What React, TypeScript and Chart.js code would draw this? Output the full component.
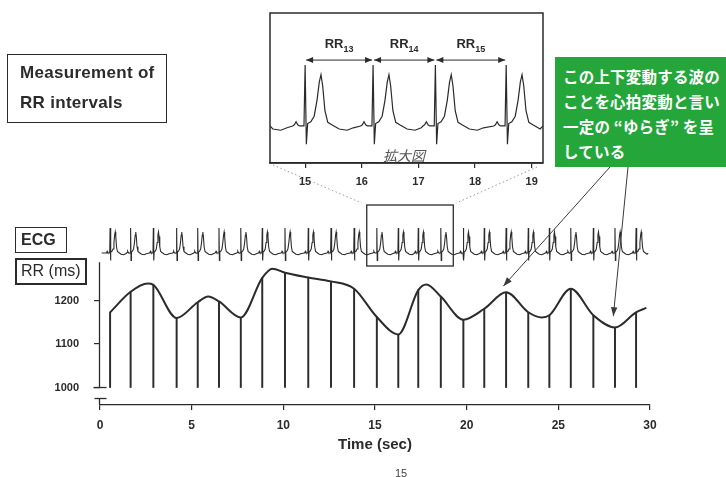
import React, { useEffect, useRef } from 'react';
import { Chart, registerables } from 'chart.js';

Chart.register(...registerables);

const INK = '#2b2b2b';
const FONT = '"Liberation Sans", Arial, Helvetica, sans-serif';
const JP = '"Noto Sans CJK JP", "Noto Sans CJK SC", sans-serif';

// Beat (R wave) times in seconds and the RR interval (ms) at each stem
const beatTimes = [0.55, 1.67, 2.91, 4.18, 5.33, 6.49, 7.68, 8.85, 10.09, 11.36, 12.6, 13.86, 15.1, 16.27, 17.36, 18.59, 19.82, 20.96, 22.15, 23.36, 24.51, 25.68, 26.91, 28.09, 29.24];
const rrValues = [1173, 1220, 1236, 1160, 1196, 1198, 1161, 1252, 1264, 1253, 1244, 1227, 1162, 1122, 1224, 1209, 1156, 1181, 1219, 1173, 1166, 1227, 1166, 1138, 1173];
const curveExtraTimes = [2.6, 5.9, 9.4, 17.8, 24.1, 29.8];
const curveExtraValues = [1239, 1209, 1273, 1237, 1161, 1183];

const xTicks = [0, 5, 10, 15, 20, 25, 30];
const yTicks = [1000, 1100, 1200];
const rrBase = 1000;
const rrAxisTop = 1288;

// One heartbeat read from the enlarged view: [seconds from R, amplitude (R = 1)]
const ecgBeatShape: [number, number][] = [
  [-0.22, 0], [-0.19, 0.02], [-0.16, 0.07], [-0.13, 0.02], [-0.1, 0], [-0.02, 0],
  [0, 1.0], [0.022, -0.3], [0.045, 0.04], [0.1, 0.07], [0.16, 0.16], [0.21, 0.42],
  [0.25, 0.72], [0.28, 0.84], [0.31, 0.66], [0.35, 0.25], [0.4, 0.06], [0.47, 0.02], [0.6, -0.05], [0.74, -0.07], [0.85, -0.03],
];
const ecgStart = 0.09;
const ecgEnd = 29.9;

// Enlarged view (拡大図)
const insetBeatTimes = [13.83, 15.0, 16.2, 17.3, 18.55];
const insetTicks = [15, 16, 17, 18, 19];
const insetMin = 14.38;
const insetMax = 19.2;
const rrLabelNumbers = ['13', '14', '15'];
const rrArrowLevel = 1.08;

const zoomBoxTimes = [14.55, 19.27];
const zoomBoxEcg = [1.92, -0.52];
const arrowTargets = [{ x: 22.0, y: 1233 }, { x: 28.0, y: 1164 }];
const calloutLines = ['この上下変動する波の', 'ことを心拍変動と言い', '一定の “ゆらぎ” を呈', 'している'];

const INSET = { left: 270, top: 13, width: 273, height: 150 };
const CALLOUT = { left: 555, top: 57, width: 171, height: 110 };

function buildEcg(beats: number[], from: number, to: number) {
  const pts: { x: number; y: number }[] = [];
  for (const b of beats) {
    for (const [dt, a] of ecgBeatShape) {
      const t = b + dt;
      if (t >= from && t <= to) pts.push({ x: t, y: a });
    }
  }
  pts.sort((p, q) => p.x - q.x);
  return [{ x: from, y: 0 }, ...pts, { x: to, y: 0 }];
}

function line(ctx: CanvasRenderingContext2D, x1: number, y1: number, x2: number, y2: number) {
  ctx.beginPath();
  ctx.moveTo(x1, y1);
  ctx.lineTo(x2, y2);
  ctx.stroke();
}

function arrowHead(ctx: CanvasRenderingContext2D, fx: number, fy: number, tx: number, ty: number, len: number, half: number) {
  const a = Math.atan2(ty - fy, tx - fx);
  ctx.beginPath();
  ctx.moveTo(tx, ty);
  ctx.lineTo(tx - len * Math.cos(a) + half * Math.sin(a), ty - len * Math.sin(a) - half * Math.cos(a));
  ctx.lineTo(tx - len * Math.cos(a) - half * Math.sin(a), ty - len * Math.sin(a) + half * Math.cos(a));
  ctx.closePath();
  ctx.fill();
}

const mainDecor = {
  id: 'mainDecor',
  afterDraw(chart: any) {
    const { ctx, chartArea, scales } = chart;
    const x = scales.x;
    const y = scales.y;
    const ye = scales.yEcg;
    ctx.save();
    ctx.strokeStyle = INK;
    ctx.fillStyle = INK;
    // y axis with break
    const ax = chartArea.left - 0.5;
    const yTop = y.getPixelForValue(rrAxisTop);
    const y0 = y.getPixelForValue(rrBase);
    ctx.lineWidth = 1.3;
    line(ctx, ax, yTop, ax, y0);
    line(ctx, ax - 6, y0, ax + 7, y0);
    const yb = y0 + 11;
    line(ctx, ax - 5, yb, ax + 7, yb);
    line(ctx, ax, yb, ax, chartArea.bottom);
    // zoom box on the ECG
    const bl = x.getPixelForValue(zoomBoxTimes[0]);
    const br = x.getPixelForValue(zoomBoxTimes[1]);
    const bt = ye.getPixelForValue(zoomBoxEcg[0]);
    const bb = ye.getPixelForValue(zoomBoxEcg[1]);
    ctx.lineWidth = 1.3;
    ctx.strokeRect(bl, bt, br - bl, bb - bt);
    // dotted guide lines to the enlarged view
    ctx.save();
    ctx.strokeStyle = '#9a9a9a';
    ctx.lineWidth = 1;
    ctx.setLineDash([1.5, 2.5]);
    const ib = INSET.top + INSET.height;
    line(ctx, INSET.left + 3, ib + 2, bl - 5, bt - 2);
    line(ctx, INSET.left + INSET.width - 6, ib + 4, br + 3, bt - 2);
    ctx.restore();
    // callout arrows
    ctx.strokeStyle = '#3a3a3a';
    ctx.fillStyle = '#3a3a3a';
    ctx.lineWidth = 1;
    const starts = [CALLOUT.left + 55, CALLOUT.left + 73];
    arrowTargets.forEach((t, i) => {
      const sx = starts[i];
      const sy = CALLOUT.top + CALLOUT.height;
      const tx = x.getPixelForValue(t.x);
      const ty = y.getPixelForValue(t.y);
      line(ctx, sx, sy, tx, ty);
      arrowHead(ctx, sx, sy, tx, ty, 9, 3.2);
    });
    ctx.restore();
  },
};

const insetDecor = {
  id: 'insetDecor',
  afterDraw(chart: any) {
    const { ctx, chartArea, scales } = chart;
    const x = scales.x;
    const y = scales.y;
    ctx.save();
    ctx.strokeStyle = INK;
    ctx.fillStyle = INK;
    ctx.lineWidth = 1.5;
    ctx.strokeRect(chartArea.left, chartArea.top, chartArea.right - chartArea.left, chartArea.bottom - chartArea.top);
    const ay = y.getPixelForValue(rrArrowLevel);
    ctx.lineWidth = 1;
    for (let i = 0; i < rrLabelNumbers.length; i++) {
      const xa = x.getPixelForValue(insetBeatTimes[i + 1]) + 1;
      const xb = x.getPixelForValue(insetBeatTimes[i + 2]) - 1;
      line(ctx, xa, ay, xb, ay);
      arrowHead(ctx, xb, ay, xa, ay, 7, 3);
      arrowHead(ctx, xa, ay, xb, ay, 7, 3);
      const mid = (xa + xb) / 2;
      ctx.font = `bold 13px ${FONT}`;
      const w1 = ctx.measureText('RR').width;
      ctx.font = `bold 9px ${FONT}`;
      const w2 = ctx.measureText(rrLabelNumbers[i]).width;
      const sx = mid - (w1 + w2) / 2;
      ctx.textBaseline = 'alphabetic';
      ctx.textAlign = 'left';
      ctx.font = `bold 13px ${FONT}`;
      ctx.fillText('RR', sx, ay - 12);
      ctx.font = `bold 9px ${FONT}`;
      ctx.fillText(rrLabelNumbers[i], sx + w1, ay - 8);
    }
    ctx.restore();
  },
};

function Txt(props: { left: number; cy: number; size: number; lh?: number; weight?: string; color?: string; family?: string; italic?: boolean; ls?: number; children: any }) {
  const lh = props.lh ?? props.size * 1.3;
  return (
    <div
      style={{
        position: 'absolute',
        left: props.left,
        top: props.cy - lh / 2,
        height: lh,
        lineHeight: `${lh}px`,
        fontSize: props.size,
        fontWeight: props.weight ?? 'normal',
        fontStyle: props.italic ? 'italic' : 'normal',
        color: props.color ?? INK,
        fontFamily: props.family ?? FONT,
        letterSpacing: props.ls ?? 0,
        whiteSpace: 'pre',
      }}
    >
      {props.children}
    </div>
  );
}

function Box(props: { left: number; top: number; right: number; bottom: number; border?: number; bg?: string }) {
  return (
    <div
      style={{
        position: 'absolute',
        left: props.left,
        top: props.top,
        width: props.right - props.left,
        height: props.bottom - props.top,
        boxSizing: 'border-box',
        border: props.border ? `${props.border}px solid ${INK}` : 'none',
        background: props.bg ?? 'transparent',
      }}
    />
  );
}

export default function App() {
  const mainRef = useRef<HTMLCanvasElement>(null);
  const insetRef = useRef<HTMLCanvasElement>(null);

  useEffect(() => {
    Chart.defaults.font.family = FONT;
    const stems = beatTimes.map((t, i) => ({ x: t, y: [rrBase, rrValues[i]] }));
    const curve = [
      ...beatTimes.map((t, i) => ({ x: t, y: rrValues[i] })),
      ...curveExtraTimes.map((t, i) => ({ x: t, y: curveExtraValues[i] })),
    ].sort((a, b) => a.x - b.x);

    const main = new Chart(mainRef.current!, {
      type: 'line',
      data: {
        datasets: [
          {
            type: 'line',
            label: 'ECG',
            data: buildEcg(beatTimes, ecgStart, ecgEnd),
            yAxisID: 'yEcg',
            borderColor: INK,
            borderWidth: 1.1,
            pointRadius: 0,
            tension: 0,
          } as any,
          {
            type: 'line',
            label: 'RR curve',
            data: curve,
            yAxisID: 'y',
            borderColor: INK,
            borderWidth: 2,
            pointRadius: 0,
            cubicInterpolationMode: 'monotone',
          } as any,
          {
            type: 'bar',
            label: 'RR',
            data: stems,
            yAxisID: 'y',
            backgroundColor: INK,
            borderWidth: 0,
            barThickness: 1.3,
          } as any,
        ],
      },
      options: {
        animation: false,
        responsive: false,
        devicePixelRatio: 1,
        layout: { padding: { top: 222, right: 76, left: 0, bottom: 0 } },
        plugins: { legend: { display: false }, tooltip: { enabled: false } },
        scales: {
          x: {
            type: 'linear',
            min: 0,
            max: 30,
            offset: false,
            afterBuildTicks: (s: any) => {
              s.ticks = xTicks.map((v) => ({ value: v }));
            },
            afterFit: (s: any) => {
              s.height = 72;
            },
            grid: { offset: false, drawOnChartArea: false, drawTicks: true, tickLength: 5, color: INK, lineWidth: 1.2 },
            border: { display: true, color: INK, width: 1.3 },
            ticks: { color: INK, font: { size: 12, weight: 'bold' }, padding: 8, maxRotation: 0, autoSkip: false, callback: (v: any) => String(v) },
            title: { display: true, text: 'Time (sec)', color: INK, font: { size: 15, weight: 'bold' }, padding: { top: 0, bottom: 23 } },
          },
          y: {
            type: 'linear',
            position: 'left',
            min: 959.8,
            max: 1380.5,
            afterBuildTicks: (s: any) => {
              s.ticks = yTicks.map((v) => ({ value: v }));
            },
            afterFit: (s: any) => {
              s.width = 100;
            },
            grid: { drawOnChartArea: false, drawTicks: true, tickLength: 6, color: INK, lineWidth: 1.2 },
            border: { display: false },
            ticks: { color: INK, font: { size: 11, weight: 'bold' }, padding: 15, callback: (v: any) => String(v) },
          },
          yEcg: { type: 'linear', display: false, min: -6.08, max: 1.24 },
        },
      } as any,
      plugins: [mainDecor],
    });

    const inset = new Chart(insetRef.current!, {
      type: 'line',
      data: {
        datasets: [
          {
            label: '拡大図',
            data: buildEcg(insetBeatTimes, insetMin, insetMax),
            borderColor: INK,
            borderWidth: 1.2,
            pointRadius: 0,
            tension: 0,
          },
        ],
      },
      options: {
        animation: false,
        responsive: false,
        devicePixelRatio: 1,
        layout: { padding: { top: 2, left: 2, right: 2, bottom: 0 } },
        plugins: { legend: { display: false }, tooltip: { enabled: false } },
        scales: {
          x: {
            type: 'linear',
            min: insetMin,
            max: insetMax,
            offset: false,
            afterBuildTicks: (s: any) => {
              s.ticks = insetTicks.map((v) => ({ value: v }));
            },
            afterFit: (s: any) => {
              s.height = 30;
            },
            grid: { offset: false, drawOnChartArea: false, drawTicks: true, tickLength: 5, color: INK, lineWidth: 1.2 },
            border: { display: true, color: INK, width: 1.5 },
            ticks: { color: INK, font: { size: 11, weight: 'bold' }, padding: 7, maxRotation: 0, autoSkip: false, callback: (v: any) => String(v) },
          },
          y: { type: 'linear', display: false, min: -0.607, max: 1.852 },
        },
      } as any,
      plugins: [insetDecor],
    });

    return () => {
      main.destroy();
      inset.destroy();
    };
  }, []);

  return (
    <div style={{ position: 'fixed', left: 0, top: 0, width: 726, height: 477, background: '#fff', overflow: 'hidden' }}>
      <canvas ref={mainRef} width={726} height={477} style={{ position: 'absolute', left: 0, top: 0, width: 726, height: 477 }} />
      <canvas
        ref={insetRef}
        width={INSET.width + 4}
        height={INSET.height + 32}
        style={{ position: 'absolute', left: INSET.left - 2, top: INSET.top - 2, width: INSET.width + 4, height: INSET.height + 32 }}
      />
      <Box left={7} top={54} right={167} bottom={123} border={1.5} />
      <Txt left={20} cy={73} size={17} weight="bold" ls={0.3}>Measurement of</Txt>
      <Txt left={20} cy={103} size={17} weight="bold" ls={0.3}>RR intervals</Txt>
      <Box left={15} top={227} right={67} bottom={253} border={1.3} />
      <Txt left={21} cy={240} size={16} weight="bold">ECG</Txt>
      <Box left={15} top={258} right={87} bottom={285} border={2} />
      <Txt left={21} cy={271.5} size={16}>RR (ms)</Txt>
      <Box left={CALLOUT.left} top={CALLOUT.top} right={CALLOUT.left + CALLOUT.width} bottom={CALLOUT.top + CALLOUT.height} bg="#24a63b" />
      {calloutLines.map((s, i) => (
        <Txt key={i} left={563} cy={76 + 25 * i} size={15.5} lh={22} weight="bold" color="#ffffff" family={JP} ls={0.2}>
          {s}
        </Txt>
      ))}
      <Txt left={383} cy={155} size={14} italic color="#555555" family={JP}>拡大図</Txt>
      <Txt left={395} cy={473} size={11} color="#444444">15</Txt>
    </div>
  );
}
